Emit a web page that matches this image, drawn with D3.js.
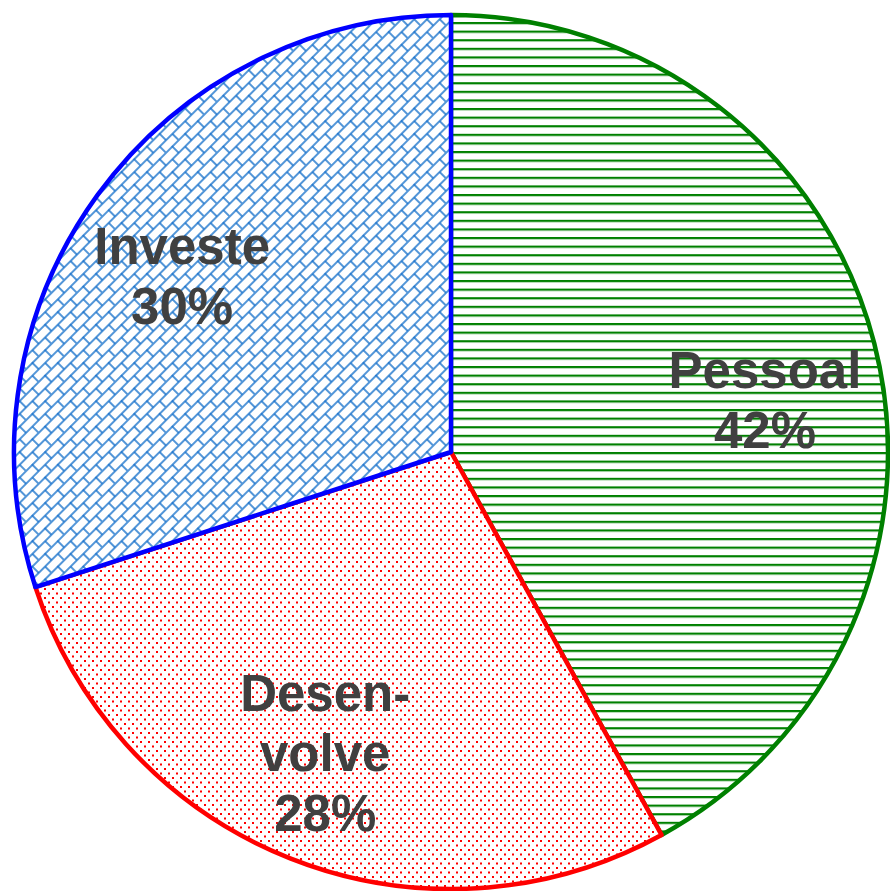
<!DOCTYPE html>
<html>
<head>
<meta charset="utf-8">
<script src="https://cdn.jsdelivr.net/npm/d3@7"></script>
<style>
  html, body { margin: 0; padding: 0; background: #fff; }
  svg { display: block; }
</style>
</head>
<body>
<div id="chart"></div>
<script>
// slice data
var categories = ["Pessoal", "Desenvolve", "Investe"];
var values = [42, 28, 30];
var labelLines = [["Pessoal", "42%"], ["Desen-", "volve", "28%"], ["Investe", "30%"]];

var width = 890,
    height = 891,
    cx = 451,
    cy = 452,
    radius = 437;

var strokeColors = ["#008000", "#ff0000", "#0000ff"];
var fillIds = ["hlines", "dots", "brick"];
// small nudges so the text block sits where the original put it
var labelNudge = [[4, 27], [-8, 3], [-10, 12]];

var svg = d3.select("#chart")
            .append("svg")
            .attr("width", width)
            .attr("height", height);

var defs = svg.append("defs");

// green horizontal lines
var p1 = defs.append("pattern")
    .attr("id", "hlines")
    .attr("patternUnits", "userSpaceOnUse")
    .attr("width", 8)
    .attr("height", 8.6);
p1.append("rect").attr("width", 8).attr("height", 8.6).attr("fill", "#fff");
p1.append("rect").attr("y", 0).attr("width", 8).attr("height", 2.2).attr("fill", "#008000");

// red staggered dots
var p2 = defs.append("pattern")
    .attr("id", "dots")
    .attr("patternUnits", "userSpaceOnUse")
    .attr("width", 8)
    .attr("height", 9);
p2.append("rect").attr("width", 8).attr("height", 9).attr("fill", "#fff");
p2.append("rect").attr("x", 1).attr("y", 1).attr("width", 2).attr("height", 2).attr("fill", "#ff0000");
p2.append("rect").attr("x", 5).attr("y", 5.5).attr("width", 2).attr("height", 2).attr("fill", "#ff0000");

// blue diagonal brick
var p3 = defs.append("pattern")
    .attr("id", "brick")
    .attr("patternUnits", "userSpaceOnUse")
    .attr("width", 18)
    .attr("height", 18)
    .attr("patternTransform", "rotate(-45)");
p3.append("rect").attr("width", 18).attr("height", 18).attr("fill", "#fff");
p3.append("path")
  .attr("d", "M0,1H18M0,10H18M1,0V10M10,10V18")
  .attr("stroke", "#1a73cc")
  .attr("stroke-width", 1.5)
  .attr("fill", "none");

var pie = d3.pie().sort(null).value(function (d) { return d; });
var arcs = pie(values);

var arc = d3.arc().innerRadius(0).outerRadius(radius);
var labelArc = d3.arc().innerRadius(320).outerRadius(320);

var g = svg.append("g").attr("transform", "translate(" + cx + "," + cy + ")");

g.selectAll("path.slice")
 .data(arcs)
 .enter()
 .append("path")
 .attr("class", "slice")
 .attr("d", arc)
 .attr("fill", function (d, i) { return "url(#" + fillIds[i] + ")"; })
 .attr("stroke", function (d, i) { return strokeColors[i]; })
 .attr("stroke-width", 4.5)
 .attr("stroke-linejoin", "round");

arcs.forEach(function (d, i) {
  var c = labelArc.centroid(d);
  var x = c[0] + labelNudge[i][0];
  var y = c[1] + labelNudge[i][1];
  var lines = labelLines[i];
  var first = y - (lines.length - 1) * 30 + 18.5;
  var t = g.append("text")
     .attr("text-anchor", "middle")
     .attr("font-family", "'Liberation Sans', Arial, sans-serif")
     .attr("font-weight", "bold")
     .attr("font-size", 51)
     .attr("fill", "#404040");
  lines.forEach(function (s, j) {
    t.append("tspan")
     .attr("x", x)
     .attr("y", first + j * 60)
     .text(s);
  });
});
</script>
</body>
</html>
